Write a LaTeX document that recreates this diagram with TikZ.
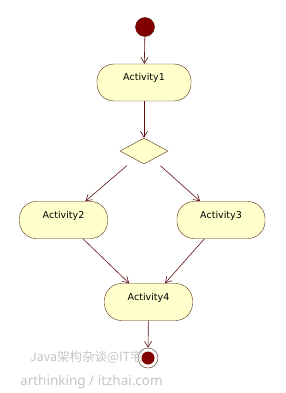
\documentclass[tikz,border=0pt]{standalone}
\usepackage{fontspec}
\setmainfont{DejaVu Sans}
\newfontfamily\cjkfont{Noto Sans CJK SC}
\newfontfamily\markfont{Noto Sans}
\usetikzlibrary{arrows.meta,shapes.geometric}

\definecolor{actfill}{HTML}{FFFFCC}
\definecolor{actline}{HTML}{5A2A10}
\definecolor{flowline}{HTML}{5A1010}
\definecolor{dotred}{HTML}{800000}
\definecolor{markgray}{HTML}{C4C4C4}

\begin{document}
\begin{tikzpicture}[x=1pt, y=-1pt,
  every node/.style={font=\fontsize{9.5}{11}\selectfont},
  activity/.style={draw=actline, fill=actfill, rounded corners=17pt,
    minimum width=88pt, inner xsep=3pt, inner ysep=5pt,
    text height=12pt, text depth=15pt},
  decision/.style={draw=actline, fill=actfill, diamond, inner sep=0pt,
    minimum width=48pt, minimum height=26pt},
  flow/.style={-{Straight Barb[length=6pt,width=7pt]}, draw=flowline, semithick}]
  \useasboundingbox (0,0) rectangle (285,393);

  % Start and end
  \node[circle, draw=flowline, fill=dotred, minimum size=19pt, inner sep=0pt] (start) at (145,27) {};
  \node[circle, draw=actline, fill=white, minimum size=20pt, inner sep=0pt] (stop) at (148,358) {};
  \fill[dotred] (stop) circle (6.5pt);

  % Activities
  \node[activity, minimum width=94pt] (act1) at (144,82.5) {Activity1};
  \node[decision] (dec) at (144,151) {};
  \node[activity] (act2) at (63.5,220) {Activity2};
  \node[activity] (act3) at (221,220) {Activity3};
  \node[activity] (act4) at (148.5,302) {Activity4};

  % Flows
  \draw[flow] (start) -- (act1);
  \draw[flow] (act1) -- (dec);
  \draw[flow, shorten <=10pt] (dec) -- (act2);
  \draw[flow, shorten <=10pt] (dec) -- (act3);
  \draw[flow] (act2) -- (act4);
  \draw[flow] (act3) -- (act4);
  \draw[flow] (act4) -- (stop);

  % Watermark
  \node[anchor=base west, text=markgray, inner sep=0pt, font=\cjkfont\fontsize{12.5}{14}\selectfont] (mark1) at (30,361) {Java架构杂谈@IT宅};
  \node[anchor=base west, text=markgray, inner sep=0pt, font=\markfont\fontsize{13.5}{15}\selectfont] (mark2) at (20,385) {arthinking / itzhai.com};
\end{tikzpicture}
\end{document}
